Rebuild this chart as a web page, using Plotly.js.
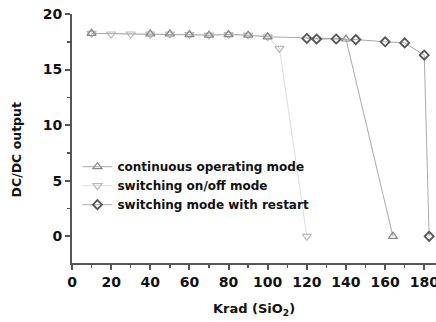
<!DOCTYPE html>
<html><head><meta charset="utf-8">
<script src="https://cdn.plot.ly/plotly-3.0.1.min.js"></script>
<style>html,body{margin:0;padding:0;background:#fff;overflow:hidden;width:436px;height:322px}</style>
</head><body>
<div id="chart" style="width:446px;height:322px"></div>
<script>
const contX = [10, 40, 50, 60, 70, 80, 90, 100, 140, 164];
const contY = [18.26, 18.2, 18.2, 18.15, 18.1, 18.15, 18.1, 17.95, 17.75, 0];
const onoffX = [10, 20, 30, 40, 50, 60, 70, 80, 90, 100, 106, 120];
const onoffY = [18.26, 18.2, 18.2, 18.2, 18.2, 18.15, 18.1, 18.15, 18.1, 17.95, 16.9, 0];
const restartX = [120, 125, 135, 145, 160, 170, 180, 182.5];
const restartY = [17.8, 17.75, 17.75, 17.7, 17.5, 17.4, 16.3, 0];
const names = ['continuous operating mode', 'switching on/off mode', 'switching mode with restart'];
const xTickVals = [0, 20, 40, 60, 80, 100, 120, 140, 160, 180];
const yTickVals = [0, 5, 10, 15, 20];

const bold = {family: 'DejaVu Sans, Verdana, sans-serif', weight: 'bold', color: '#111'};
const traces = [
  {x: onoffX, y: onoffY, name: names[1], mode: 'lines+markers', legendrank: 2,
   line: {color: '#ddd', width: 1},
   marker: {symbol: 'triangle-down-open', size: 8, color: '#bbb', line: {width: 1.2, color: '#bbb'}}},
  {x: contX, y: contY, name: names[0], mode: 'lines+markers', legendrank: 1,
   line: {color: '#aaa', width: 1},
   marker: {symbol: 'triangle-up-open', size: 8, color: '#888', line: {width: 1.2, color: '#888'}}},
  {x: restartX, y: restartY, name: names[2], mode: 'lines+markers', legendrank: 3,
   line: {color: '#aaa', width: 1},
   marker: {symbol: 'diamond-open', size: 7, color: '#555', line: {width: 1.8, color: '#555'}}}
];
const layout = {
  width: 446, height: 322,
  margin: {l: 72, r: 10, t: 14, b: 59},
  paper_bgcolor: '#fff', plot_bgcolor: '#fff',
  showlegend: true,
  legend: {x: 0.015, y: 0.445, xanchor: 'left', yanchor: 'top', bgcolor: 'rgba(0,0,0,0)',
           font: Object.assign({}, bold, {size: 12}), tracegroupgap: 0, traceorder: 'normal'},
  xaxis: {range: [0, 186], tickvals: xTickVals,
          showgrid: false, zeroline: false, showline: true, linecolor: '#555', linewidth: 2,
          ticks: 'outside', ticklen: 5, tickwidth: 2, tickcolor: '#555',
          minor: {dtick: 10, ticks: 'outside', ticklen: 3, tickwidth: 1.5, tickcolor: '#555'},
          tickfont: Object.assign({}, bold, {size: 14}),
          title: {text: 'Krad (SiO<sub>2</sub>)', font: Object.assign({}, bold, {size: 13}), standoff: 15}},
  yaxis: {range: [-2.4, 20], tickvals: yTickVals,
          showgrid: false, zeroline: false, showline: true, linecolor: '#555', linewidth: 2,
          ticks: 'outside', ticklen: 5, tickwidth: 2, tickcolor: '#555',
          minor: {dtick: 2.5, ticks: 'outside', ticklen: 3, tickwidth: 1.5, tickcolor: '#555'},
          tickfont: Object.assign({}, bold, {size: 14})},
  annotations: [{text: 'DC/DC output', xref: 'paper', yref: 'paper', x: -0.152, y: 0.455,
                 xanchor: 'center', yanchor: 'middle', textangle: -90, showarrow: false,
                 font: Object.assign({}, bold, {size: 12.5})}]
};
Plotly.newPlot('chart', traces, layout, {displayModeBar: false, staticPlot: true});
</script>
</body></html>
